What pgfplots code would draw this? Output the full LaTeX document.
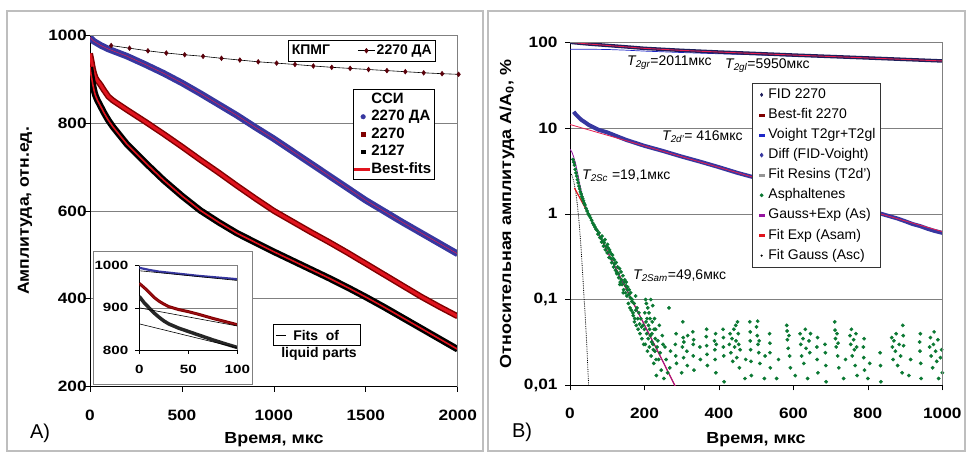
\documentclass[border=0pt]{standalone}
\usepackage{fontspec}
\setmainfont{Liberation Sans}
\usepackage{graphicx}
\usepackage{pgfplots}
\pgfplotsset{compat=1.18}

\definecolor{bandblue}{RGB}{55,55,160}
\definecolor{darkred}{RGB}{128,0,0}
\definecolor{fitred}{RGB}{225,20,30}
\definecolor{kpmg}{RGB}{90,0,10}
\definecolor{asgreen}{RGB}{10,120,50}
\definecolor{aspurple}{RGB}{150,20,160}
\definecolor{fitpink}{RGB}{230,30,80}
\definecolor{gridgray}{RGB}{128,128,128}
\definecolor{framegray}{RGB}{190,190,190}
\definecolor{fidnavy}{RGB}{30,30,90}
\definecolor{voightblue}{RGB}{30,40,200}
\definecolor{resingray}{RGB}{150,150,150}

% left panel: FID (SSI), amplitude vs time
\pgfplotstableread{
t v
0 995
10 990
20 986
40 981
60 976
80 972
100 968
200 952
300 933
400 913
500 891
600 867
700 842
800 817
900 790
1000 764
1100 736
1200 708
1300 680
1400 652
1500 624
1600 599
1700 574
1800 550
1900 526
2000 502
}\blueDA
\pgfplotstableread{
t v
0 958
5 948
10 937
15 925
20 916
25 909
30 903
40 896
50 891
60 885
75 875
90 866
100 860
125 851
150 844
200 830
300 803
400 775
500 746
600 716
700 687
800 657
900 628
1000 600
1100 576
1200 552
1300 529
1400 505
1500 480
1600 455
1700 430
1800 405
1900 382
2000 360
}\redA
\pgfplotstableread{
t v
0 927
5 912
10 900
15 888
20 878
25 869
30 862
40 852
50 844
60 836
75 824
90 813
100 806
125 791
150 778
200 752
300 710
400 670
500 634
600 601
700 574
800 549
900 528
1000 507
1100 487
1200 467
1300 447
1400 426
1500 404
1600 381
1700 357
1800 333
1900 309
2000 285
}\blackB
\pgfplotstableread{
t v
115 976
215 970
315 964
415 959
515 955
615 951.5
715 947
815 943
915 939
1015 936
1115 933
1215 929.5
1315 926.5
1415 924
1515 921.5
1615 919
1715 916.5
1815 914
1915 912
2005 910.5
}\kpmgtab

% right panel: relative amplitude, log scale
\pgfplotstableread{
t v
0 100
50 95.5
100 92
150 88.5
200 85
300 80.5
400 77
500 74
600 71
700 68.3
800 65.7
900 63.1
1000 60.6
}\fid
\pgfplotstableread{
t v
0 83
50 83
100 82.5
150 81
200 79
300 76
400 73.5
500 71.4
600 69
700 66.8
800 64.6
900 62.3
1000 60.0
}\voight
\pgfplotstableread{
t v
10 15.5
15 14.5
20 13.8
30 12.5
40 11.7
50 10.9
75 9.6
100 8.9
150 7.3
200 6.2
250 5.4
300 4.65
350 4.05
400 3.5
450 3.0
500 2.62
550 2.28
600 1.97
650 1.7
700 1.48
750 1.28
800 1.11
850 0.96
880 0.88
900 0.82
920 0.76
940 0.72
960 0.67
980 0.63
1000 0.6
}\diff
\pgfplotstableread{
t v
0 3.0
5 2.85
10 2.4
15 1.85
20 1.25
25 0.75
30 0.38
35 0.17
38 0.1
40 0.075
45 0.03
50 0.01
52 0.007
}\gauss
\pgfplotstableread{
t v
0 5.67
5 5.27
10 4.59
15 3.82
20 3.04
25 2.35
30 1.85
35 1.52
40 1.28
50 0.99
60 0.81
80 0.545
100 0.366
150 0.136
200 0.0505
250 0.0188
285 0.0093
}\gaussexp
\pgfplotstableread{
t v
12 2.0
50 0.99
100 0.366
150 0.136
200 0.0505
250 0.0188
285 0.0093
}\expfit
\pgfplotstableread{
t v
8 4.3
10 4.0
12 3.7
14 3.3
16 3.0
18 2.75
20 2.5
22 2.3
24 2.1
26 1.95
28 1.8
30 1.7
32 1.58
34 1.5
36 1.42
38 1.33
40 1.27
43 1.16
46 1.08
49 1.0
52 0.95
55 0.9
58 0.84
61 0.78
64 0.74
67 0.7
70 0.66
73 0.64
75 0.58
78 0.6
80 0.53
83 0.52
85 0.47
86 0.55
88 0.48
90 0.42
92 0.46
94 0.5
95 0.38
97 0.42
100 0.35
101 0.44
102 0.4
105 0.31
106 0.38
107 0.36
110 0.3
111 0.34
112 0.27
114 0.33
116 0.3
117 0.24
119 0.29
120 0.26
122 0.22
124 0.27
125 0.21
126 0.2
128 0.24
130 0.2
131 0.18
133 0.23
134 0.15
135 0.16
137 0.21
138 0.17
140 0.15
142 0.19
143 0.12
144 0.13
146 0.16
147 0.17
149 0.12
150 0.145
151 0.16
153 0.11
154 0.13
155 0.14
157 0.09
158 0.115
159 0.13
161 0.08
162 0.105
163 0.12
165 0.075
166 0.095
167 0.1
169 0.07
170 0.065
172 0.09
173 0.055
174 0.06
176 0.11
177 0.075
178 0.05
180 0.08
182 0.06
183 0.045
185 0.07
187 0.052
188 0.04
190 0.06
192 0.048
193 0.035
196 0.05
198 0.03
200 0.045
201 0.07
202 0.03
203 0.1
204 0.055
205 0.09
206 0.04
207 0.06
208 0.025
209 0.08
210 0.035
211 0.05
212 0.07
213 0.028
214 0.045
215 0.06
216 0.038
217 0.1
218 0.022
219 0.032
220 0.04
221 0.055
222 0.085
223 0.03
224 0.026
225 0.018
226 0.045
227 0.06
228 0.025
229 0.035
230 0.045
231 0.02
232 0.013
234 0.028
236 0.033
238 0.02
240 0.05
242 0.024
245 0.015
248 0.038
250 0.03
252 0.012
255 0.028
258 0.02
262 0.014
266 0.08
268 0.016
270 0.025
283 0.03
284 0.022
285 0.04
286 0.018
300 0.014
302 0.028
303 0.055
304 0.036
305 0.021
306 0.032
314 0.025
315 0.017
316 0.038
330 0.042
331 0.03
331 0.022
332 0.034
333 0.015
349 0.028
350 0.02
366 0.037
367 0.029
367 0.045
368 0.023
369 0.017
388 0.033
389 0.026
390 0.02
391 0.04
392 0.014
393 0.03
411 0.045
412 0.036
412 0.028
413 0.022
414 0.011
428 0.03
430 0.04
432 0.024
435 0.035
437 0.019
440 0.045
442 0.028
445 0.05
446 0.033
448 0.021
450 0.055
452 0.04
453 0.03
455 0.016
457 0.026
470 0.012
472 0.02
483 0.055
484 0.042
484 0.033
485 0.026
486 0.019
487 0.013
501 0.048
503 0.038
504 0.056
505 0.03
507 0.024
508 0.033
510 0.018
522 0.012
524 0.022
536 0.04
537 0.031
537 0.024
538 0.016
555 0.012
560 0.02
582 0.05
583 0.043
584 0.034
586 0.027
588 0.038
590 0.022
592 0.016
605 0.013
618 0.04
620 0.03
622 0.022
626 0.035
628 0.018
632 0.045
634 0.027
638 0.012
642 0.033
644 0.024
646 0.04
663 0.028
664 0.02
665 0.036
666 0.014
685 0.03
686 0.024
687 0.017
688 0.011
711 0.055
712 0.044
713 0.035
715 0.028
717 0.04
719 0.022
720 0.031
722 0.016
735 0.012
740 0.02
752 0.038
754 0.03
756 0.045
758 0.022
762 0.034
764 0.026
766 0.017
768 0.04
770 0.028
771 0.013
788 0.028
789 0.021
790 0.035
791 0.015
800 0.012
805 0.018
833 0.024
834 0.017
835 0.011
864 0.036
866 0.028
868 0.02
870 0.033
874 0.025
876 0.04
880 0.017
884 0.03
888 0.022
892 0.014
894 0.05
895 0.038
896 0.029
910 0.013
915 0.02
939 0.032
940 0.025
941 0.04
942 0.018
943 0.012
966 0.028
968 0.036
970 0.022
974 0.016
976 0.03
978 0.042
982 0.025
985 0.019
988 0.034
990 0.012
995 0.021
998 0.026
1000 0.014
}\asph

\pgfplotsset{
  panel/.style={
    scale only axis, anchor=south west,
    axis x line*=bottom, axis y line*=left,
    axis line style={-, black, line width=0.7pt},
    tick align=outside, major tick length=5pt,
    tick style={black, line width=0.6pt},
    ymajorgrids, major grid style={gridgray, line width=0.6pt},
    tick label style={font=\bfseries\fontsize{15}{15}\selectfont, xscale=1.15},
    /pgf/number format/assume math mode=true,
    /pgf/number format/1000 sep={},
    after end axis/.code={\draw[gridgray, line width=0.6pt]
      (rel axis cs:0,1) -- (rel axis cs:1,1) -- (rel axis cs:1,0);},
  },
  % short bar used as a legend key for fitted lines
  dashkey/.style={legend image code/.code={%
    \path (0pt,0pt) (11pt,0pt);
    \fill[#1] (3.5pt,-1pt) rectangle (8.5pt,1pt);}},
}

\begin{document}
\begin{tikzpicture}[x=1pt,y=1pt]
\useasboundingbox (0,0) rectangle (968,453);
\draw[framegray, line width=1.2pt] (7,2) rectangle (483,442);
\draw[framegray, line width=1.2pt] (488,2) rectangle (965,442);

% ---------- A) main axis
\begin{axis}[panel, at={(90pt,66.3pt)}, width=367.7pt, height=351.7pt,
  xmin=0, xmax=2000, ymin=200, ymax=1000,
  xtick={0,500,...,2000}, ytick={200,400,...,1000},
  xticklabel style={yshift=-15pt}, yticklabel style={xshift=5pt},
  legend cell align=left,
  legend style={at={(0.7145,0.8456)}, anchor=north west, draw=black,
    fill=white, font=\bfseries\fontsize{15}{15}\selectfont, row sep=1pt,
    inner sep=1.5pt, nodes={inner sep=1.5pt, text height=10.5pt, text depth=3pt}},
]
\addplot[forget plot, bandblue, line width=6.5pt] table {\blueDA};
\addplot[forget plot, fitpink, line width=0.5pt] table {\blueDA};
\addplot[forget plot, darkred, line width=6pt] table {\redA};
\addplot[forget plot, fitred, line width=3pt] table {\redA};
\addplot[forget plot, black, line width=6.5pt] table {\blackB};
\addplot[forget plot, fitred, line width=1.6pt] table {\blackB};
\addlegendimage{empty legend}\addlegendentry{ССИ}
\addlegendimage{only marks, mark=*, mark size=2.3pt, color=bandblue}\addlegendentry{2270 ДА}
\addlegendimage{only marks, mark=square*, mark size=1.8pt, color=darkred}\addlegendentry{2270}
\addlegendimage{only marks, mark=square*, mark size=1.8pt, color=black}\addlegendentry{2127}
\addlegendimage{legend image code/.code={\fill[fitred] (0pt,-0.8pt) rectangle (15pt,0.8pt);}}
\addlegendentry{Best-fits}
\end{axis}

% CPMG series on an overlay with its own legend
\begin{axis}[at={(90pt,66.3pt)}, anchor=south west, scale only axis,
  width=367.7pt, height=351.7pt, xmin=0, xmax=2000, ymin=200, ymax=1000,
  hide axis, clip=false, legend columns=2,
  legend style={at={(0.5389,0.9858)}, anchor=north west, draw=black,
    fill=white, font=\bfseries\fontsize{14}{14}\selectfont, inner sep=2pt,
    /tikz/every even column/.append style={column sep=26pt},
    nodes={inner sep=1.5pt, text height=11pt, text depth=3pt}},
]
\addlegendimage{empty legend}\addlegendentry{КПМГ}
\addplot[black, line width=0.6pt, mark=diamond*, mark size=2.3pt,
  mark options={kpmg, fill=kpmg}] table {\kpmgtab};
\addlegendentry{2270 ДА}
\end{axis}

% ---------- inset
\draw[fill=white, draw=gridgray, line width=0.8pt] (93,69) rectangle (252,202);
\begin{axis}[panel, at={(139.3pt,103pt)}, width=98pt, height=84.3pt,
  xmin=0, xmax=100, ymin=800, ymax=1000,
  xtick={0,50,100}, ytick={800,900,1000}, major tick length=4pt,
  tick label style={font=\bfseries\fontsize{12}{12}\selectfont, xscale=1.1},
  xticklabel style={yshift=-8pt}, yticklabel style={xshift=-2pt},
  legend image code/.code={\draw[#1] (0pt,0pt) -- (10pt,0pt);},
  legend style={at={(1.364,0.308)}, anchor=north west, draw=black,
    line width=0.6pt, fill=white, font=\bfseries\fontsize{14}{17}\selectfont,
    inner sep=2pt},
]
\addplot[forget plot, bandblue, line width=2.2pt] table {\blueDA};
\addplot[forget plot, darkred, line width=3pt] table {\redA};
\addplot[forget plot, fitred!70!black, line width=1pt] table {\redA};
\addplot[forget plot, black!85, line width=3.5pt] table {\blackB};
\addplot[forget plot, black, line width=0.6pt] coordinates {(0,988) (100,965)};
\addplot[forget plot, black, line width=0.6pt] coordinates {(0,900) (100,857)};
\addplot[forget plot, black, line width=0.6pt] coordinates {(0,862) (100,805)};
\addlegendimage{black, line width=1pt}
\addlegendentry{\begin{tabular}[t]{@{}l@{}}\hspace*{5pt}Fits\ \ of\\\hspace*{-7pt}liquid parts\end{tabular}}
\end{axis}

% ---------- B) log axis
\begin{axis}[panel, at={(570pt,67.7pt)}, width=372.3pt, height=343pt,
  xmin=0, xmax=1000, ymode=log, ymin=0.01, ymax=100, yminorticks=false,
  xtick={0,200,...,1000}, ytick={0.01,0.1,1,10,100},
  yticklabels={{0,01},{0,1},1,10,100},
  xticklabel style={yshift=-14pt}, yticklabel style={xshift=-3pt},
  legend cell align=left,
  legend image code/.code={\path (0pt,0pt) (11pt,0pt);
    \draw[#1] plot coordinates {(6pt,0pt)};},
  legend style={at={(0.4889,0.8813)}, anchor=north west, draw=black!80,
    line width=0.6pt, fill=white, font=\fontsize{14}{14}\selectfont,
    row sep=3.1pt, inner sep=3pt,
    nodes={inner sep=1.5pt, text height=10.5pt, text depth=3.5pt}},
]
\addplot[forget plot, bandblue, line width=4pt] table {\diff};
\addplot[forget plot, fitpink, line width=0.8pt] coordinates {(0,11.0) (1000,0.62)};
\addplot[forget plot, voightblue, line width=0.7pt] table {\voight};
\addplot[forget plot, fidnavy, line width=3.5pt] table {\fid};
\addplot[forget plot, fitpink, line width=0.9pt] table {\fid};
\addplot[forget plot, only marks, mark=*, mark size=1.7pt, asgreen] table {\asph};
\addplot[forget plot, black, densely dotted, line width=0.8pt] table {\gauss};
\addplot[forget plot, fitred, line width=1.2pt] table {\expfit};
\addplot[forget plot, aspurple, line width=0.8pt] table {\gaussexp};
\addlegendimage{mark=diamond*, mark size=1.6pt, color=fidnavy}\addlegendentry{FID 2270}
\addlegendimage{dashkey=darkred}\addlegendentry{Best-fit 2270}
\addlegendimage{dashkey=voightblue}\addlegendentry{Voight T2gr+T2gl}
\addlegendimage{mark=diamond*, mark size=2pt, color=bandblue}\addlegendentry{Diff (FID-Voight)}
\addlegendimage{dashkey=resingray}\addlegendentry{Fit Resins (T2d')}
\addlegendimage{mark=*, mark size=1.6pt, color=asgreen}\addlegendentry{Asphaltenes}
\addlegendimage{dashkey=aspurple}\addlegendentry{Gauss+Exp (As)}
\addlegendimage{dashkey=fitred}\addlegendentry{Fit Exp (Asam)}
\addlegendimage{mark=*, mark size=0.8pt, color=black}\addlegendentry{Fit Gauss (Asc)}
\end{axis}

% annotations in panel B
\begin{scope}[every node/.style={anchor=west, inner sep=0pt, font=\fontsize{14}{14}\selectfont}]
\node at (627,390) {\textit{T\textsubscript{2gr}}=2011мкс};
\node at (725,387) {\textit{T\textsubscript{2gl}}=5950мкс};
\node at (662,316) {\textit{T\textsubscript{2d'}}= 416мкс};
\node at (582,277) {\textit{T\textsubscript{2Sc}} =19,1мкс};
\node at (633,177) {\textit{T\textsubscript{2Sam}}=49,6мкс};
\end{scope}

% axis titles and panel letters
\begin{scope}[every node/.style={font=\bfseries\fontsize{16}{16}\selectfont}]
\node at (274,13) {\scalebox{1.12}[1]{Время, мкс}};
\node at (756,13) {\scalebox{1.12}[1]{Время, мкс}};
\node[rotate=90] at (25,242) {\scalebox{1.1}[1]{Амплитуда, отн.ед.}};
\node[rotate=90] at (507,239) {\scalebox{1.12}[1]{Относительная амплитуда A/A\textsubscript{0}, \%}};
\end{scope}
\node[font=\fontsize{20}{20}\selectfont] at (40,20) {A)};
\node[font=\fontsize{20}{20}\selectfont] at (522,21) {B)};
\end{tikzpicture}
\end{document}
